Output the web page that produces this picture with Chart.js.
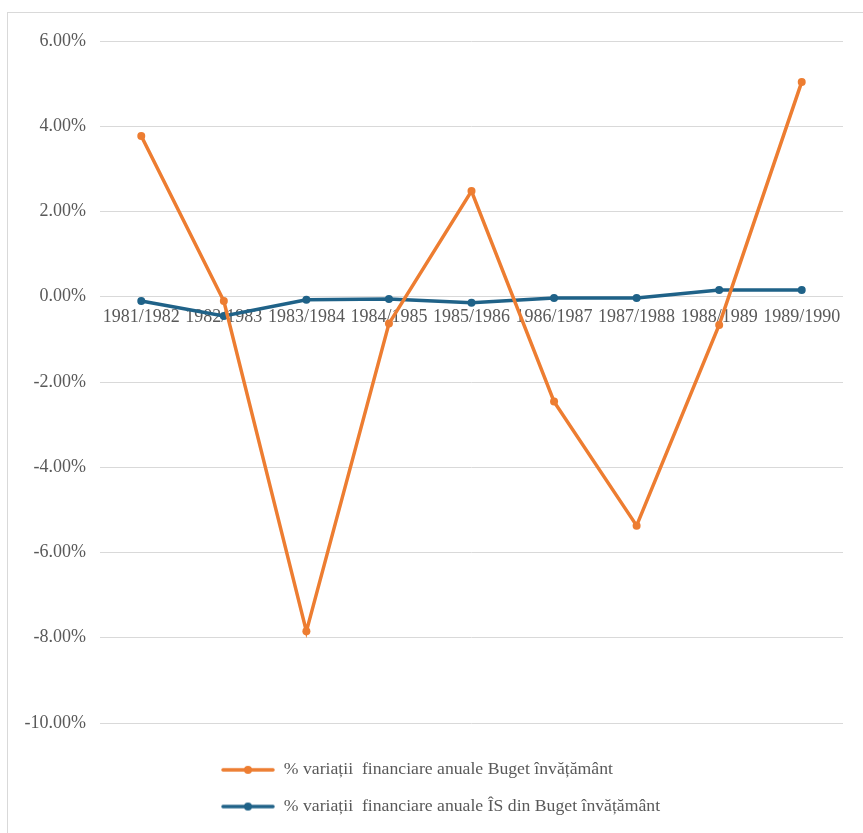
<!DOCTYPE html>
<html>
<head>
<meta charset="utf-8">
<script src="https://cdn.jsdelivr.net/npm/chart.js@4.4.1/dist/chart.umd.min.js"></script>
<style>
  body { margin: 0; background: #fff; }
  #frame {
    position: absolute; left: 7px; top: 12px;
    width: 856px; height: 821px;
    border-top: 1px solid #d9d9d9; border-left: 1px solid #d9d9d9;
  }
  #chart { display: block; }
</style>
</head>
<body>
<div id="frame"><canvas id="chart" width="855" height="820"></canvas></div>
<script>
// years
var categories = ["1981/1982", "1982/1983", "1983/1984", "1984/1985", "1985/1986",
                  "1986/1987", "1987/1988", "1988/1989", "1989/1990"];

// % per year
var bugetInvatamant = [3.77, -0.10, -7.85, -0.63, 2.48, -2.46, -5.37, -0.66, 5.04];
var isDinBuget      = [-0.10, -0.45, -0.07, -0.05, -0.14, -0.03, -0.03, 0.16, 0.16];

var seriesNames = [
  "% variații  financiare anuale Buget învățământ",
  "% variații  financiare anuale ÎS din Buget învățământ"
];

var yTicks = [6, 4, 2, 0, -2, -4, -6, -8, -10];

var colors = ["#ED7D31", "#1F6288"];
var textColor = "#595959";
var serif = "'Liberation Serif', 'Times New Roman', serif";

// line + dot icon for the legend
function legendIcon(color) {
  var c = document.createElement('canvas');
  c.width = 54; c.height = 10;
  var g = c.getContext('2d');
  g.strokeStyle = color;
  g.lineWidth = 3.5;
  g.lineCap = 'round';
  g.beginPath(); g.moveTo(2, 5); g.lineTo(52, 5); g.stroke();
  g.fillStyle = color;
  g.beginPath(); g.arc(27, 5, 4, 0, Math.PI * 2); g.fill();
  return c;
}

// put the legend block under the plot like the original
var legendPlace = {
  id: 'legendPlace',
  afterLayout: function(chart) {
    var lg = chart.legend;
    var h = lg.bottom - lg.top;
    lg.left = 194;
    lg.top = 729;
    lg.bottom = lg.top + h;
  }
};

function makeSet(i, data) {
  return {
    label: seriesNames[i],
    data: data,
    borderColor: colors[i],
    backgroundColor: colors[i],
    borderWidth: 3.5,
    pointRadius: 4,
    pointHoverRadius: 4,
    pointBorderWidth: 0,
    tension: 0
  };
}

new Chart(document.getElementById('chart'), {
  type: 'line',
  data: {
    labels: categories,
    datasets: [makeSet(0, bugetInvatamant), makeSet(1, isDinBuget)]
  },
  options: {
    responsive: false,
    animation: false,
    layout: { padding: { top: 28, right: 20, bottom: 26.6, left: 0 } },
    plugins: {
      tooltip: { enabled: false },
      legend: {
        position: 'bottom',
        align: 'start',
        labels: {
          usePointStyle: true,
          pointStyleWidth: 54,
          padding: 19,
          color: textColor,
          font: { family: serif, size: 17.7 },
          generateLabels: function(chart) {
            var items = Chart.defaults.plugins.legend.labels.generateLabels(chart);
            items.forEach(function(it) { it.pointStyle = legendIcon(colors[it.datasetIndex]); });
            return items;
          }
        }
      }
    },
    scales: {
      x: {
        position: { y: 0 },
        offset: true,
        grid: { display: false },
        border: { display: false },
        ticks: {
          autoSkip: false,
          maxRotation: 0,
          padding: 2,
          color: textColor,
          font: { family: serif, size: 18 }
        }
      },
      y: {
        min: -10,
        max: 6,
        afterFit: function(scale) { scale.width = 92; },
        afterBuildTicks: function(scale) {
          scale.ticks = yTicks.map(function(v) { return { value: v }; });
        },
        grid: { color: '#d9d9d9', drawTicks: false },
        border: { display: false },
        ticks: {
          padding: 14,
          color: textColor,
          font: { family: serif, size: 18 },
          callback: function(v) { return v.toFixed(2) + '%'; }
        }
      }
    }
  },
  plugins: [legendPlace]
});
</script>
</body>
</html>
